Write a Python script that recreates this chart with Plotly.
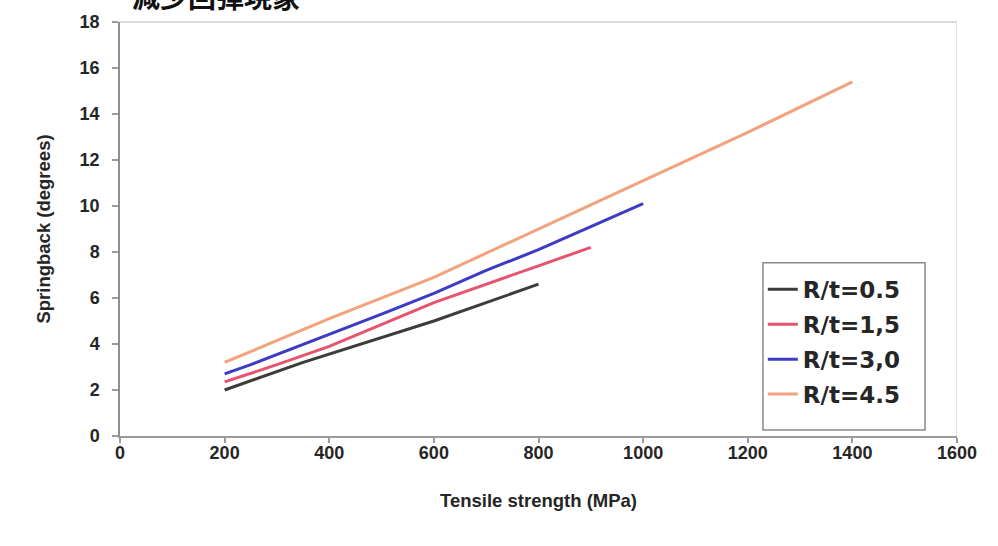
import plotly.graph_objects as go

# Springback vs. tensile strength for several bend ratios R/t
series_names = ["R/t=0.5", "R/t=1,5", "R/t=3,0", "R/t=4.5"]
series_colors = ["#3a3d38", "#e6546e", "#3b3bc4", "#f2a27c"]

x_05 = [200, 350, 600, 800]
y_05 = [2.0, 3.2, 5.0, 6.6]

x_15 = [200, 300, 400, 600, 800, 900]
y_15 = [2.35, 3.1, 3.9, 5.8, 7.4, 8.2]

x_30 = [200, 250, 500, 600, 700, 800, 900, 1000]
y_30 = [2.7, 3.1, 5.3, 6.2, 7.2, 8.1, 9.1, 10.1]

x_45 = [200, 400, 600, 800, 1000, 1200, 1400]
y_45 = [3.2, 5.1, 6.9, 9.0, 11.1, 13.2, 15.4]

x_ticks = [0, 200, 400, 600, 800, 1000, 1200, 1400, 1600]
y_ticks = [0, 2, 4, 6, 8, 10, 12, 14, 16, 18]

title_text = "減少回彈現象"
x_title = "Tensile strength (MPa)"
y_title = "Springback (degrees)"

fig = go.Figure()
for i, (name, color, xs, ys) in enumerate(zip(
        series_names, series_colors,
        [x_05, x_15, x_30, x_45], [y_05, y_15, y_30, y_45])):
    fig.add_trace(go.Scatter(
        x=xs, y=ys, name=name, mode="lines",
        line=dict(color=color, width=3),
        legendgroup=f"g{i}",
    ))

sans = "Liberation Sans, Arial, sans-serif"
tick_font = dict(family=sans, size=18, color="#262626", weight="bold")
legend_font = dict(family="DejaVu Sans", size=23, color="#262626", weight="bold")

fig.update_layout(
    width=998, height=546,
    margin=dict(l=120, r=41, t=20, b=110),
    paper_bgcolor="white", plot_bgcolor="white",
    showlegend=True,
    legend=dict(
        x=0.768, y=0.406, xanchor="left", yanchor="top",
        bgcolor="rgba(0,0,0,0)", borderwidth=0,
        font=legend_font, tracegroupgap=2, itemwidth=30,
    ),
    xaxis=dict(
        range=[0, 1600], tickvals=x_ticks, ticktext=[str(v) for v in x_ticks],
        showgrid=False, zeroline=False,
        showline=True, linecolor="#9a9a9a", linewidth=2,
        ticks="outside", ticklen=5, tickwidth=1.5, tickcolor="#9a9a9a",
        tickfont=tick_font, ticklabelstandoff=-6,
        title=dict(text=x_title,
                   font=dict(family=sans, size=18.5, color="#262626", weight="bold"),
                   standoff=32),
    ),
    yaxis=dict(
        range=[0, 18], tickvals=y_ticks, ticktext=[str(v) for v in y_ticks],
        showgrid=False, zeroline=False,
        showline=True, linecolor="#8f8f8f", linewidth=1.5,
        ticks="outside", ticklen=6, tickwidth=1.5, tickcolor="#9a9a9a",
        tickfont=tick_font, ticklabelstandoff=9,
        title=dict(text=y_title,
                   font=dict(family=sans, size=18.5, color="#262626", weight="bold"),
                   standoff=24),
    ),
)

# legend frame
fig.add_shape(type="rect", xref="paper", yref="paper",
              x0=0.7682, x1=0.9618, y0=0.0144, y1=0.4183,
              line=dict(color="#8a8a8a", width=1.5), fillcolor="white",
              layer="below")

# faint frame on the top and right edges of the plot area
fig.add_shape(type="line", xref="x", yref="paper", x0=0, x1=1600, y0=1, y1=1,
              line=dict(color="#dcdcdc", width=2))
fig.add_shape(type="line", xref="x", yref="paper", x0=1600, x1=1600, y0=0, y1=1,
              line=dict(color="#e2e2e2", width=2))

# heading, running off the top edge of the page
fig.add_annotation(
    text=title_text, xref="paper", yref="paper", x=0.012, y=1.0,
    xanchor="left", yanchor="bottom", yshift=4, showarrow=False,
    font=dict(family="Noto Sans CJK TC", size=28, color="#111111", weight="bold"),
)

fig.write_html("out.html")
